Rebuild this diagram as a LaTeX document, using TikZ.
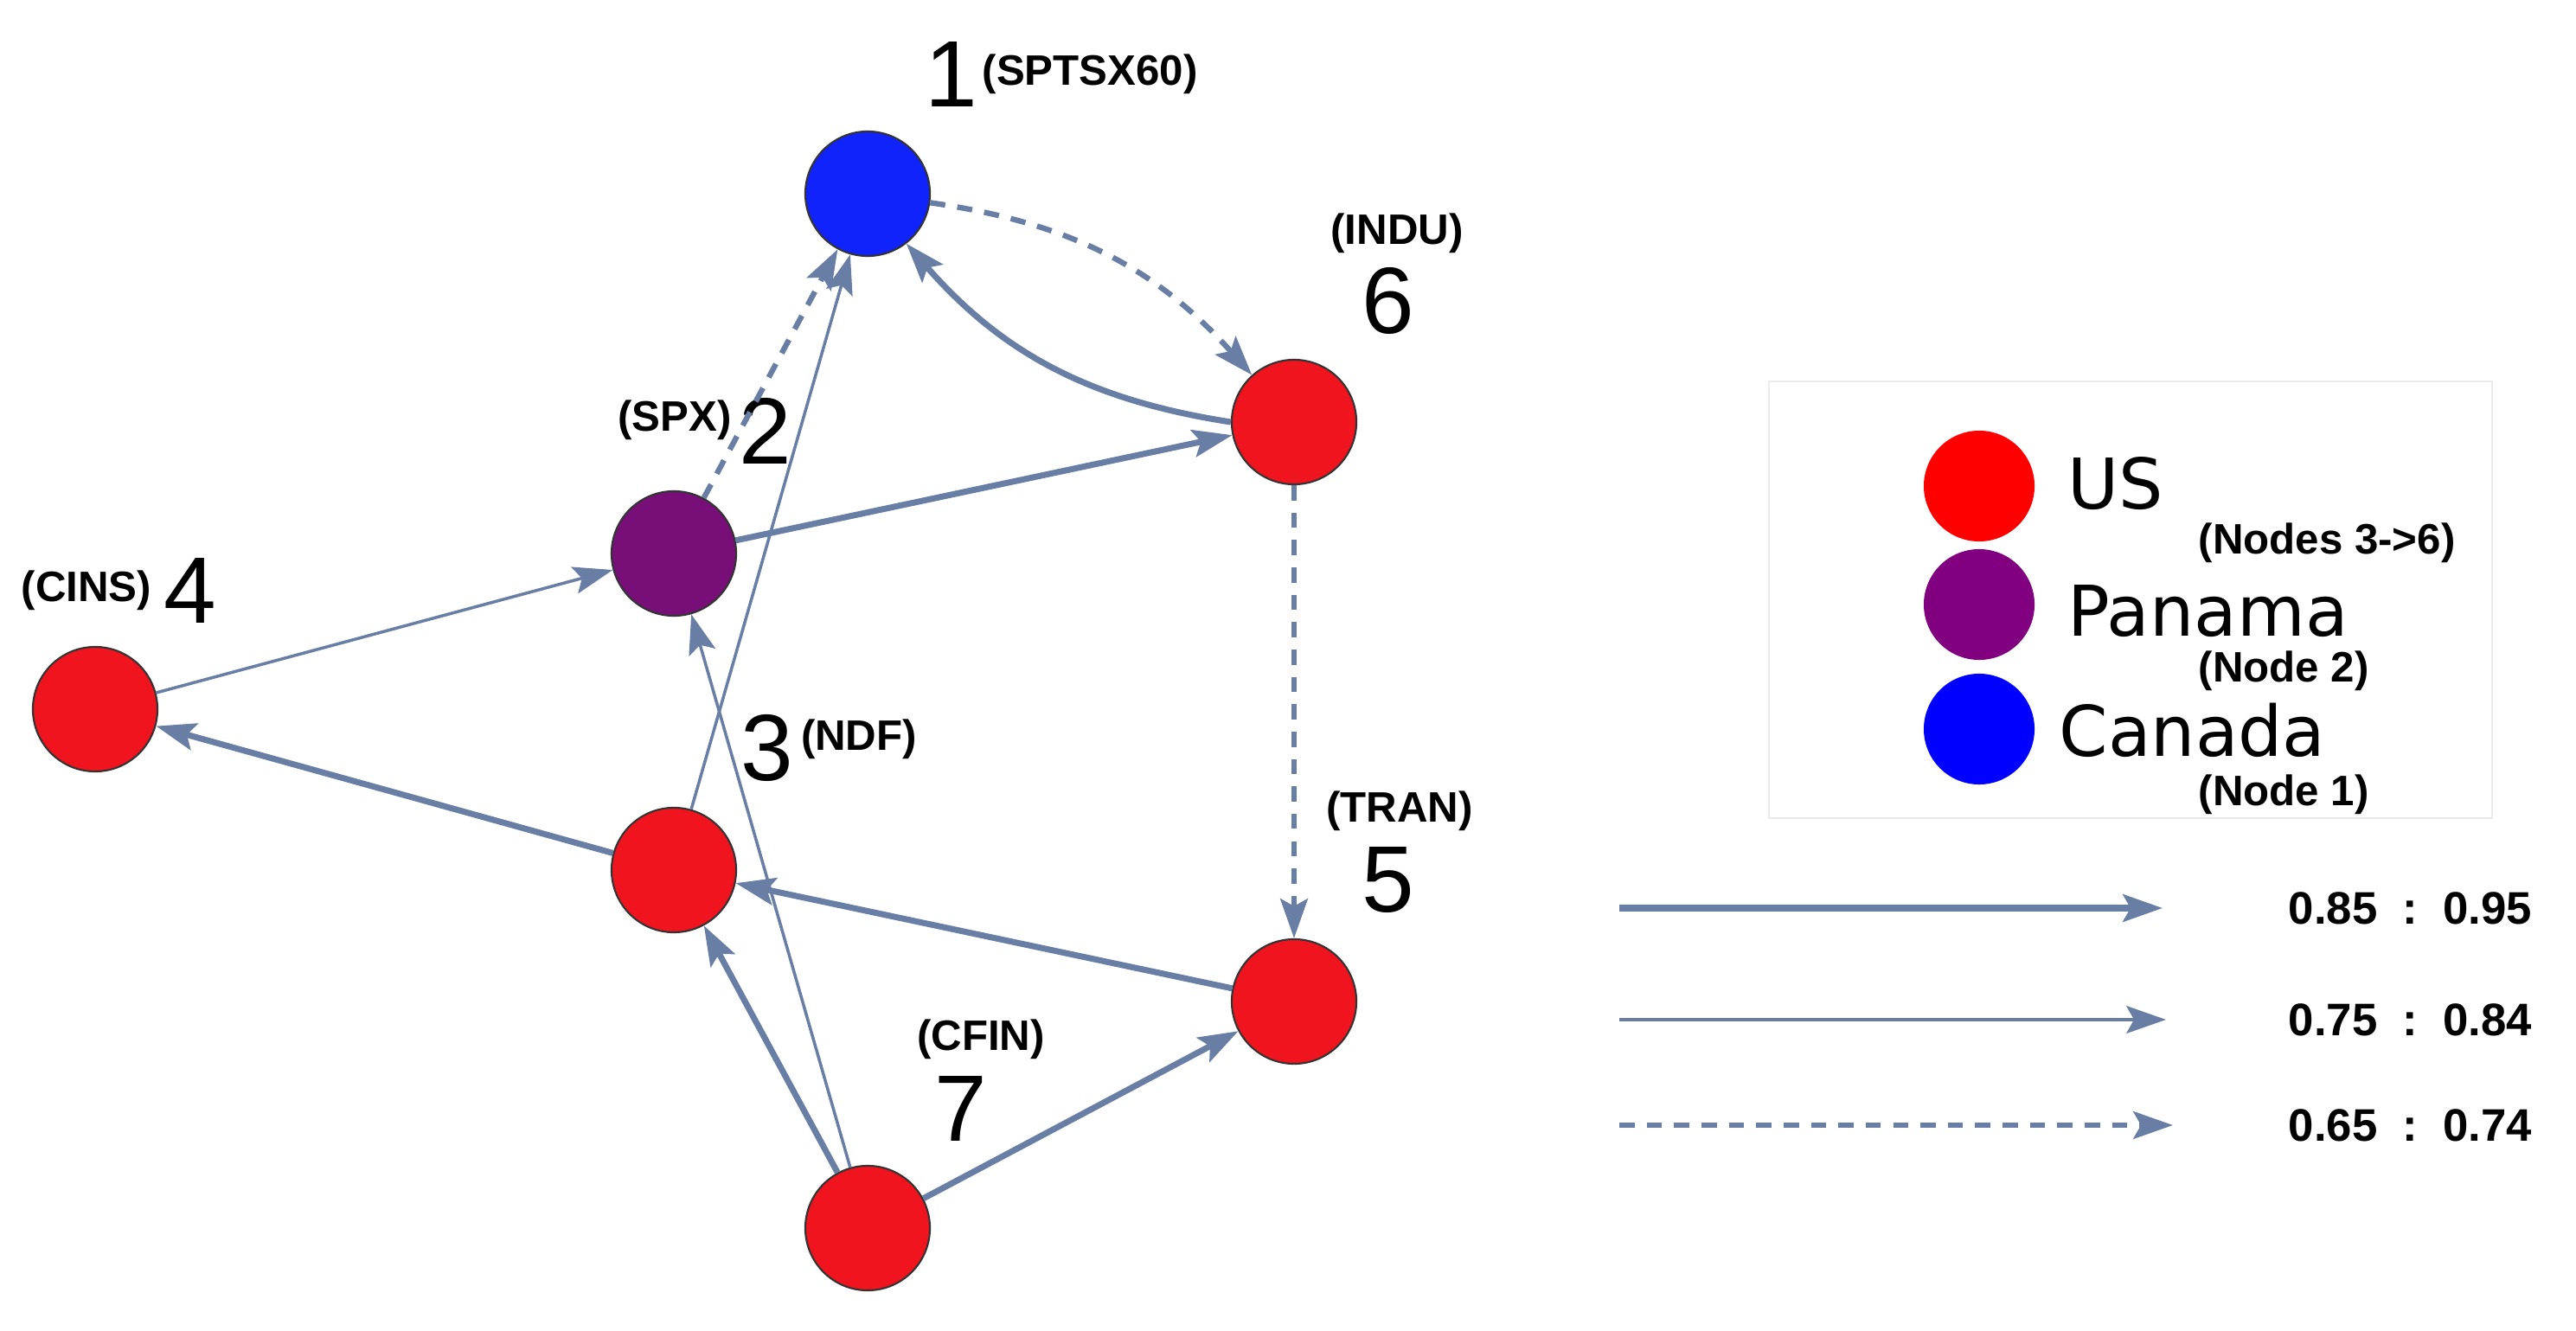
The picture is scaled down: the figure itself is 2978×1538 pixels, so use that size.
\documentclass[tikz,border=0pt]{standalone}
\usepackage{fontspec}
\setmainfont{Liberation Sans}
\newfontfamily\dvs{DejaVu Sans}
\usetikzlibrary{arrows.meta}
\definecolor{edge}{RGB}{104,126,164}
\definecolor{nred}{RGB}{240,20,30}
\definecolor{npur}{RGB}{120,15,120}
\definecolor{nblue}{RGB}{15,35,250}
\definecolor{lpur}{RGB}{128,0,128}
\begin{document}
\begin{tikzpicture}[x=0.01cm,y=0.01cm,
  nd/.style={circle,draw=black!80,line width=0.6pt,minimum size=1.44cm,inner sep=0},
  num/.style={font=\fontsize{31}{31}\selectfont,inner sep=0},
  lab/.style={font=\bfseries\fontsize{14}{14}\selectfont,inner sep=0},
  arr/.style={draw=edge,-{Stealth[length=13pt,width=9pt,inset=2.5pt]}},
  thk/.style={arr,line width=2pt},
  thn/.style={arr,line width=1pt},
  dsh/.style={arr,line width=1.8pt,dash pattern=on 5pt off 4pt},
  lc/.style={circle,minimum width=1.28cm,minimum height=1.2cm,inner sep=0},
  lg/.style={font=\dvs\fontsize{23}{23}\selectfont,inner sep=0,anchor=base west},
  lgs/.style={font=\bfseries\fontsize{14}{14}\selectfont,inner sep=0,anchor=base west},
  val/.style={font=\bfseries\fontsize{15}{15}\selectfont,inner sep=0,anchor=west}]
\useasboundingbox (0,0) rectangle (2978,1538);
\node[nd,fill=nblue] (n1) at (1003,1314) {};
\node[nd,fill=nred] (n6) at (1496,1050) {};
\node[nd,fill=npur] (n2) at (779,898) {};
\node[nd,fill=nred] (n4) at (110,718) {};
\node[nd,fill=nred] (n3) at (779,532) {};
\node[nd,fill=nred] (n5) at (1496,380) {};
\node[nd,fill=nred] (n7) at (1003,118) {};
% labels
\node[num] (t1) at (1100,1452) {1};
\node[lab,anchor=west] (l1) at (1135,1452) {(SPTSX60)};
\node[lab] (l6) at (1615,1268) {(INDU)};
\node[num] (t6) at (1605,1190) {6};
\node[lab] (l2) at (780,1052) {(SPX)};
\node[num] (t2) at (885,1040) {2};
\node[lab] (l4) at (100,855) {(CINS)};
\node[num] (t4) at (220,855) {4};
\node[num] (t3) at (887,673) {3};
\node[lab] (l3) at (993,683) {(NDF)};
\node[lab] (l5) at (1618,600) {(TRAN)};
\node[num] (t5) at (1605,520) {5};
\node[lab] (l7) at (1134,336) {(CFIN)};
\node[num] (t7) at (1111,256) {7};
% edges
\draw[dsh] (n1) to[bend left=20] (n6);
\draw[thk] (n6.west) to[bend left=20] (n1);
\draw[dsh] (n2) -- (n1);
\draw[thn] (n3) -- (n1);
\draw[thk] (n2) -- (n6);
\draw[thn] (n4) -- (n2);
\draw[thk] (n3) -- (n4);
\draw[dsh] (n6) -- (n5);
\draw[thk] (n5) -- (n3);
\draw[thk] (n7) -- (n3);
\draw[thn] (n7) -- (n2);
\draw[thk] (n7) -- (n5);
% legend
\draw[black!8,line width=0.5pt] (2045,592) rectangle (2881,1097);
\node[lc,fill=red] (c1) at (2288,976) {};
\node[lc,fill=lpur] (c2) at (2288,839) {};
\node[lc,fill=blue] (c3) at (2288,695) {};
\node[lg] (g1) at (2390,949) {US};
\node[lgs] (s1) at (2541,898) {(Nodes 3->6)};
\node[lg] (g2) at (2390,803) {Panama};
\node[lgs] (s2) at (2541,750) {(Node 2)};
\node[lg] (g3) at (2380,664) {Canada};
\node[lgs] (s3) at (2541,607) {(Node 1)};
% scale
\coordinate (a1) at (1872,488); \coordinate (b1) at (2500,488);
\coordinate (a2) at (1872,359); \coordinate (b2) at (2504,359);
\coordinate (a3) at (1872,237); \coordinate (b3) at (2512,237);
\draw[thk] (a1) -- (b1);
\draw[thn,line width=1.3pt] (a2) -- (b2);
\draw[dsh] (a3) -- (b3);
\node[val] (v1) at (2645,488) {0.85~~:~~0.95};
\node[val] (v2) at (2645,359) {0.75~~:~~0.84};
\node[val] (v3) at (2645,237) {0.65~~:~~0.74};
\end{tikzpicture}
\end{document}
